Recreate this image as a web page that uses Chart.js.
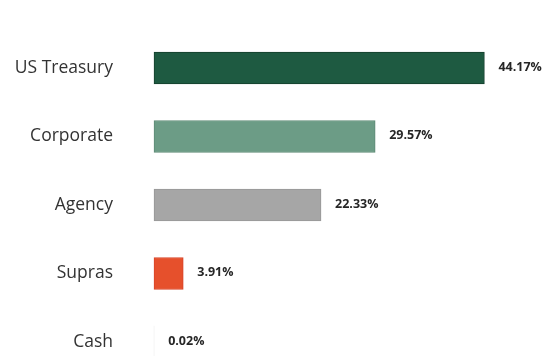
<!DOCTYPE html>
<html>
<head>
<meta charset="utf-8">
<script src="https://cdn.jsdelivr.net/npm/chart.js@4.4.1/dist/chart.umd.min.js"></script>
<style>
  html, body { margin: 0; padding: 0; background: #ffffff; }
  #wrap { width: 552px; height: 356px; position: relative; }
</style>
</head>
<body>
<div id="wrap"><canvas id="c" width="552" height="356"></canvas></div>
<script>
// Portfolio allocation by sector (percent of holdings)
const sectors = ['US Treasury', 'Corporate', 'Agency', 'Supras', 'Cash'];
const weights = [44.17, 29.57, 22.33, 3.91, 0.02];
const barColors = ['#1e5a41', '#6c9c86', '#a6a6a6', '#e6502c', '#f2f2f2'];
const edgeColors = ['#153f2d', '#5e8a76', '#979797', '#d8452a', '#f2f2f2'];
const edgeWidths = [1, 1, 1, 1, 0];

// Writes each percentage just past the end of its bar
const valueLabels = {
  id: 'valueLabels',
  afterDatasetsDraw(chart) {
    const ctx = chart.ctx;
    const meta = chart.getDatasetMeta(0);
    ctx.save();
    ctx.font = 'bold 12.5px "Open Sans", sans-serif';
    ctx.fillStyle = '#262626';
    ctx.textAlign = 'left';
    ctx.textBaseline = 'middle';
    meta.data.forEach((bar, i) => {
      const v = chart.data.datasets[0].data[i];
      ctx.fillText(v.toFixed(2) + '%', bar.x + 14, bar.y - 1);
    });
    ctx.restore();
  }
};

new Chart(document.getElementById('c'), {
  type: 'bar',
  data: {
    labels: sectors,
    datasets: [{
      data: weights,
      backgroundColor: barColors,
      borderColor: edgeColors,
      borderWidth: edgeWidths,
      borderSkipped: false,
      barThickness: 32,
      clip: false
    }]
  },
  options: {
    indexAxis: 'y',
    responsive: false,
    animation: false,
    layout: { padding: { top: 68, bottom: 14, left: 0, right: 24 } },
    plugins: {
      legend: { display: false },
      tooltip: { enabled: false }
    },
    scales: {
      x: {
        display: false,
        min: 0,
        max: 50
      },
      y: {
        offset: false,
        grid: { display: false, drawTicks: false },
        border: { display: false },
        ticks: {
          padding: 41,
          color: '#333333',
          font: { family: '"Open Sans", sans-serif', size: 17.5 }
        },
        afterFit(scale) {
          scale.width = 154;
          scale.paddingTop = 0;
          scale.paddingBottom = 0;
        }
      }
    }
  },
  plugins: [valueLabels]
});
</script>
</body>
</html>
